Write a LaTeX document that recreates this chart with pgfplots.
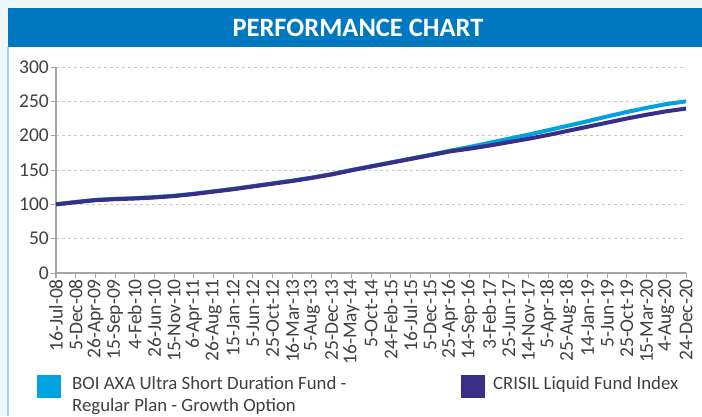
\documentclass[border=0pt]{standalone}
\usepackage{pgfplots}
\pgfplotsset{compat=1.18}
\usepackage{fontspec}
\setmainfont{Carlito}
\definecolor{bgc}{HTML}{EEF8FC}
\definecolor{framec}{HTML}{9AD8E6}
\definecolor{banner}{HTML}{0078C0}
\definecolor{boi}{HTML}{00A2E1}
\definecolor{crisil}{HTML}{3A2F86}
\definecolor{axisgray}{HTML}{A6A6A6}
\definecolor{gridgray}{HTML}{C8C8C8}
\definecolor{txt}{HTML}{404040}
\begin{document}
\begin{tikzpicture}[x=1pt,y=1pt]
\useasboundingbox (0,0) rectangle (702,416);
\fill[bgc] (0,0) rectangle (702,416);
\fill[white] (8,0) rectangle (702,408);
\fill[banner] (8,369) rectangle (702,408);
\draw[framec, line width=2pt] (8,0) -- (8,369);
\node[text=white, font=\fontsize{26.5}{28}\selectfont\bfseries] at (358,388.5) {PERFORMANCE CHART};
\begin{axis}[
  at={(56pt,143pt)}, anchor=south west,
  scale only axis, width=630pt, height=206pt,
  xmin=0, xmax=32, ymin=0, ymax=300,
  ytick={0,50,...,300},
  xtick={0,...,32},
  xticklabels={16-Jul-08,5-Dec-08,26-Apr-09,15-Sep-09,4-Feb-10,26-Jun-10,15-Nov-10,6-Apr-11,26-Aug-11,15-Jan-12,5-Jun-12,25-Oct-12,16-Mar-13,5-Aug-13,25-Dec-13,16-May-14,5-Oct-14,24-Feb-15,16-Jul-15,5-Dec-15,25-Apr-16,14-Sep-16,3-Feb-17,25-Jun-17,14-Nov-17,5-Apr-18,25-Aug-18,14-Jan-19,5-Jun-19,25-Oct-19,15-Mar-20,4-Aug-20,24-Dec-20},
  x tick label style={rotate=90, anchor=east, inner sep=1pt},
  y tick label style={inner sep=2pt},
  tick label style={font=\fontsize{19.5}{21}\selectfont, text=txt},
  /pgf/number format/assume math mode=true,
  axis x line*=bottom, axis y line*=left,
  axis line style={axisgray, line width=1.5pt, -},
  every tick/.style={axisgray, line width=1pt},
  tick align=outside, major tick length=5pt,
  ymajorgrids, major grid style={gridgray, dashed, dash pattern=on 3pt off 3pt, line width=0.8pt},
  clip=false,
]
\addplot[boi, line width=4pt, line join=round] coordinates {
(0,100) (1,103.5) (2,106.5) (3,108) (4,109) (5,110.5) (6,112.5) (7,115.5) (8,119) (9,122.5) (10,126.5) (11,130.5) (12,134.5) (13,139) (14,144) (15,150) (16,155.5) (17,161) (18,166.5) (19,172) (20,178) (21,183.5) (22,189.5) (23,195.5) (24,201.5) (25,208) (26,214.5) (27,221) (28,228) (29,234.5) (30,240.5) (31,246) (32,250)};
\addplot[crisil, line width=4pt, line join=round] coordinates {
(0,100) (1,103) (2,106) (3,107.5) (4,108.5) (5,110) (6,112) (7,115) (8,118.5) (9,122) (10,126) (11,130) (12,134) (13,138.5) (14,143.5) (15,149.5) (16,155) (17,160.5) (18,166) (19,171.5) (20,177) (21,181) (22,185.5) (23,190.5) (24,195.5) (25,201) (26,207) (27,213) (28,219) (29,225) (30,230.5) (31,235.5) (32,239.5)};
\end{axis}
\fill[boi] (37,18) rectangle (61,41);
\node[anchor=base west, inner sep=0pt, text=txt, font=\fontsize{18.8}{22}\selectfont] at (72,27) {BOI AXA Ultra Short Duration Fund -};
\node[anchor=base west, inner sep=0pt, text=txt, font=\fontsize{18.8}{22}\selectfont] at (72,5) {Regular Plan - Growth Option};
\fill[crisil] (461,18) rectangle (485,41);
\node[anchor=base west, inner sep=0pt, text=txt, font=\fontsize{18.8}{22}\selectfont] at (493,27) {CRISIL Liquid Fund Index};
\end{tikzpicture}
\end{document}
